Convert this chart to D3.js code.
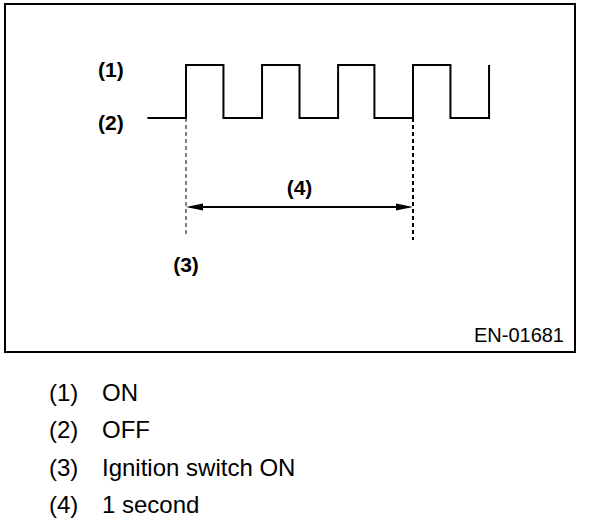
<!DOCTYPE html>
<html>
<head>
<meta charset="utf-8">
<script src="https://cdn.jsdelivr.net/npm/d3@7"></script>
<style>
  body { margin: 0; background: #fff; }
  text { font-family: "Liberation Sans", Arial, Helvetica, sans-serif; fill: #000; }
</style>
</head>
<body>
<svg id="chart" width="608" height="530"></svg>
<script>
// signal edges in seconds (0 = ignition switch ON), level held after each edge
const edgeTimes = [-0.17, 0, 0.165, 0.335, 0.50, 0.67, 0.83, 1.0, 1.165, 1.335];
const levels    = [0, 1, 0, 1, 0, 1, 0, 1, 0, 1];
const ignitionTime = 0;
const spanTimes = [0, 1];           // (4) 1 second
const levelLabels = ["(1)", "(2)"]; // ON, OFF
const legendKeys = ["(1)", "(2)", "(3)", "(4)"];
const legendText = ["ON", "OFF", "Ignition switch ON", "1 second"];
const figureCode = "EN-01681";

const svg = d3.select("#chart");

// frame
svg.append("rect")
  .attr("x", 5).attr("y", 4)
  .attr("width", 570).attr("height", 348)
  .attr("fill", "none")
  .attr("stroke", "#000")
  .attr("stroke-width", 2);

const x = d3.scaleLinear().domain([0, 1]).range([186, 413]);
const y = d3.scaleLinear().domain([0, 1]).range([118, 65]);

const pts = edgeTimes.map((t, i) => [t, levels[i]]);

// square wave
svg.append("path")
  .datum(pts)
  .attr("fill", "none")
  .attr("stroke", "#000")
  .attr("stroke-width", 2)
  .attr("stroke-linejoin", "miter")
  .attr("d", d3.line()
    .x(d => x(d[0]))
    .y(d => y(d[1]))
    .curve(d3.curveStepAfter));

// level labels
svg.selectAll(".lvl")
  .data(levelLabels)
  .enter().append("text")
  .attr("class", "lvl")
  .attr("x", 98)
  .attr("y", (d, i) => y(1 - i) + 12)
  .style("font-size", "21px")
  .style("font-weight", "bold")
  .text(d => d);

// dashed reference lines
svg.append("line")
  .attr("x1", x(spanTimes[0])).attr("x2", x(spanTimes[0]))
  .attr("y1", y(0)).attr("y2", 237)
  .attr("stroke", "#000").attr("stroke-width", 1)
  .attr("stroke-dasharray", "4,3");
svg.append("line")
  .attr("x1", x(spanTimes[1])).attr("x2", x(spanTimes[1]))
  .attr("y1", y(0)).attr("y2", 240)
  .attr("stroke", "#000").attr("stroke-width", 2)
  .attr("stroke-dasharray", "4,3");

// 1 second arrow
const ay = 207;
const x0 = x(spanTimes[0]), x1 = x(spanTimes[1]);
svg.append("line")
  .attr("x1", x0 + 4).attr("x2", x1 - 4)
  .attr("y1", ay).attr("y2", ay)
  .attr("stroke", "#000").attr("stroke-width", 2);
svg.append("path")
  .attr("d", `M${x0},${ay} L${x0 + 17},${ay - 3.5} L${x0 + 17},${ay + 3.5} Z`)
  .attr("fill", "#000");
svg.append("path")
  .attr("d", `M${x1},${ay} L${x1 - 17},${ay - 3.5} L${x1 - 17},${ay + 3.5} Z`)
  .attr("fill", "#000");

svg.append("text")
  .attr("x", (x0 + x1) / 2)
  .attr("y", 195)
  .attr("text-anchor", "middle")
  .style("font-size", "21px")
  .style("font-weight", "bold")
  .text(legendKeys[3]);

svg.append("text")
  .attr("x", x(ignitionTime))
  .attr("y", 272)
  .attr("text-anchor", "middle")
  .style("font-size", "21px")
  .style("font-weight", "bold")
  .text(legendKeys[2]);

svg.append("text")
  .attr("x", 564)
  .attr("y", 342)
  .attr("text-anchor", "end")
  .style("font-size", "20px")
  .text(figureCode);

// legend
const legend = svg.append("g");
const rows = legend.selectAll("g")
  .data(legendKeys)
  .enter().append("g")
  .attr("transform", (d, i) => `translate(0, ${401 + i * 37.3})`);
rows.append("text")
  .attr("x", 49)
  .style("font-size", "24px")
  .text(d => d);
rows.append("text")
  .attr("x", 102)
  .style("font-size", "24px")
  .text((d, i) => legendText[i]);
</script>
</body>
</html>
